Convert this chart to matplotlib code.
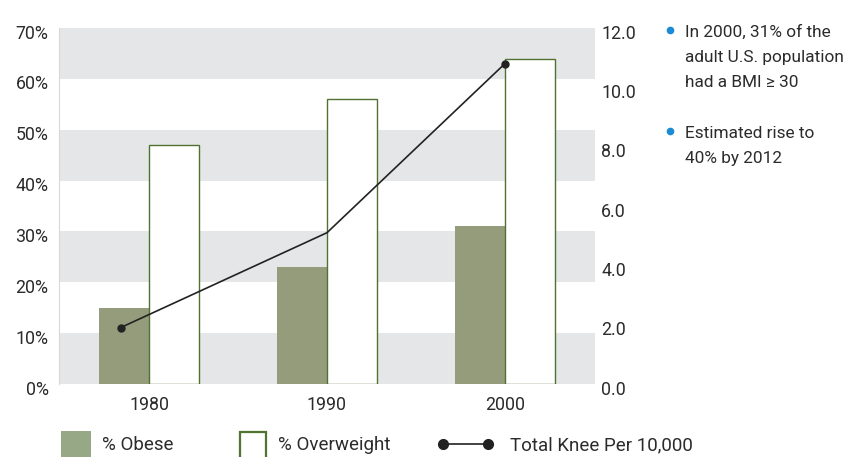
import numpy as np
import matplotlib.pyplot as plt
from matplotlib.patches import Rectangle
from matplotlib.lines import Line2D

# dados
anos = ["1980", "1990", "2000"]
obesos = [15, 23, 31]          # % Obese
sobrepeso = [47, 56, 64]       # % Overweight
joelho = [1.9, 5.1, 10.8]      # Total Knee Per 10,000
joelho_desloc = [-0.16, 0, 0]  # onde a linha cai dentro de cada ano

ticks_esq = [0, 10, 20, 30, 40, 50, 60, 70]
ticks_dir = [0, 2, 4, 6, 8, 10, 12]
faixas = [(0, 10), (20, 30), (40, 50), (60, 70)]

plt.rcParams['font.family'] = ['Roboto', 'DejaVu Sans']
cor_txt = "#2b2b2b"

W, H = 844, 457
fig = plt.figure(figsize=(W / 100, H / 100), dpi=100)
ax = fig.add_axes([59 / W, 1 - 384 / H, 536 / W, 356 / H])

x = np.arange(len(anos))
larg = 0.281

for a, b in faixas:
    ax.axhspan(a, b, color="#e5e6e8", lw=0, zorder=0)

ax.bar(x - larg / 2, obesos, width=larg, color="#949c7b", lw=0, zorder=2)
ax.bar(x + larg / 2, sobrepeso, width=larg, color="white", edgecolor="#507230",
       lw=1.0, zorder=2)

ax.set_xlim(-0.506, 2.506)
ax.set_ylim(0, 70)
ax.set_xticks([])
ax.set_yticks([])
for s in ["top", "right", "bottom"]:
    ax.spines[s].set_visible(False)
ax.spines["left"].set_color("#d8d8d8")
ax.spines["left"].set_linewidth(0.8)

# rotulos dos eixos (um pouco abaixo das linhas, como no original)
for t in ticks_esq:
    ax.annotate(f"{t}%", (0, t), xycoords=("axes fraction", "data"),
                xytext=(-7.5, -4), textcoords="offset points",
                ha="right", va="center", fontsize=12.8, color=cor_txt)
for i, ano in enumerate(anos):
    ax.annotate(ano, (i, 0), xycoords="data", xytext=(0, -15),
                textcoords="offset points", ha="center", va="center",
                fontsize=12.8, color=cor_txt)

ax2 = ax.twinx()
ax2.set_ylim(0, 12)
ax2.set_yticks([])
for s in ax2.spines.values():
    s.set_visible(False)
ax2.plot(x + np.array(joelho_desloc), joelho, color="#222222", lw=1.2,
         marker="o", markersize=5, markevery=[0, 2], zorder=5)
for t in ticks_dir:
    ax2.annotate(f"{t:.1f}", (1, t), xycoords=("axes fraction", "data"),
                 xytext=(4.5, -4), textcoords="offset points",
                 ha="left", va="center", fontsize=12.8, color=cor_txt)

# legenda
def fx(px):
    return px / W

def fy(py):
    return 1 - py / H

fig.patches.append(Rectangle((fx(61), fy(460)), fx(30), 29 / H,
                             transform=fig.transFigure, color="#96a886", lw=0))
fig.patches.append(Rectangle((fx(240), fy(460)), fx(26), 28 / H,
                             transform=fig.transFigure, facecolor="white",
                             edgecolor="#4f7530", lw=1.6))
fig.lines.append(Line2D([fx(443), fx(488)], [fy(444), fy(444)],
                        transform=fig.transFigure, color="#222222", lw=1.2,
                        marker="o", markersize=7))
fig.text(fx(102), fy(445), "% Obese", fontsize=13.5, color=cor_txt, va="center")
fig.text(fx(278), fy(445), "% Overweight", fontsize=13.5, color=cor_txt, va="center")
fig.text(fx(510), fy(445), "Total Knee Per 10,000", fontsize=13.5, color=cor_txt,
         va="center")

# notas ao lado
bloco1 = ["In 2000, 31% of the", "adult U.S. population", "had a BMI \u2265 30"]
bloco2 = ["Estimated rise to", "40% by 2012"]
for base, linhas in [(37, bloco1), (138, bloco2)]:
    fig.lines.append(Line2D([fx(670)], [fy(base - 7)], transform=fig.transFigure,
                            marker="o", markersize=4.5, color="#1a8bd4", lw=0))
    for k, txt in enumerate(linhas):
        fig.text(fx(685), fy(base + 25 * k), txt, fontsize=12.4, color=cor_txt,
                 va="baseline")

fig.savefig("out.png", dpi=100)
